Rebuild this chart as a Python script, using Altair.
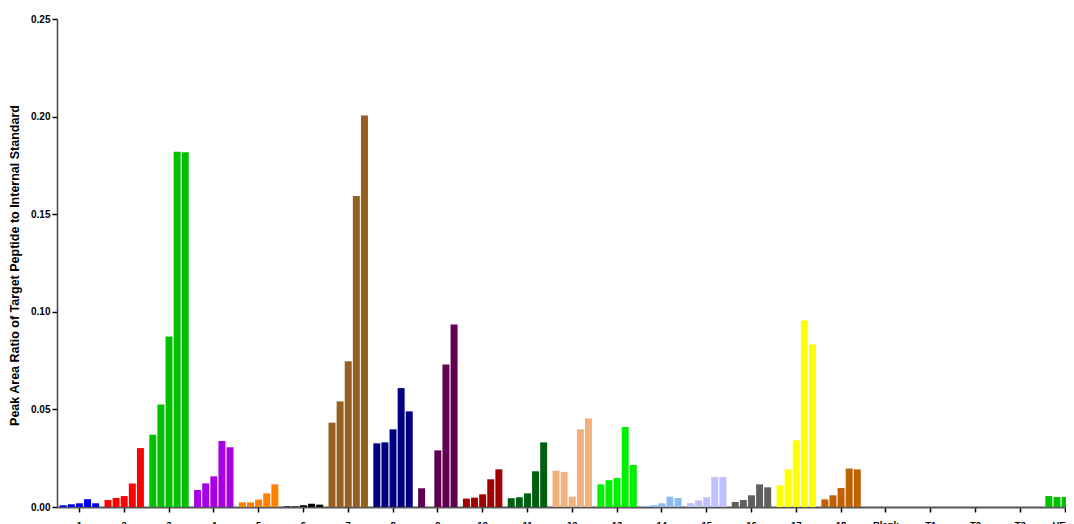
import altair as alt
import pandas as pd

groups = ["1", "2", "3", "4", "5", "6", "7", "8", "9", "10", "11", "12",
          "13", "14", "15", "16", "17", "18", "Blank", "T1", "T2", "T3", "HER2"]

colors = ["#0000F0", "#FF0000", "#00C000", "#A800E6", "#FF8000", "#000000",
          "#966020", "#000080", "#600050", "#A00000", "#006010", "#F2B27C",
          "#00F000", "#8CBCF0", "#C0C0FF", "#606060", "#FFFF00", "#C06000",
          "#00C000", "#00C000", "#00C000", "#00C000", "#00C000"]

# five replicate bars per group, in left-to-right order
rep1 = [0.0009, 0.0036, 0.0370, 0.0087, 0.0024, 0.0003, 0.0432, 0.0326, 0.0096, 0.0043, 0.0045, 0.0186,
        0.0116, 0.0005, 0.0020, 0.0026, 0.0111, 0.0039, 0.0, 0.0, 0.0, 0.0, 0.0056]
rep2 = [0.0014, 0.0046, 0.0525, 0.0121, 0.0024, 0.0003, 0.0541, 0.0331, 0.0, 0.0048, 0.0050, 0.0180,
        0.0137, 0.0009, 0.0034, 0.0036, 0.0193, 0.0060, 0.0, 0.0, 0.0, 0.0, 0.0051]
rep3 = [0.0019, 0.0056, 0.0873, 0.0157, 0.0038, 0.0009, 0.0747, 0.0398, 0.0290, 0.0065, 0.0070, 0.0053,
        0.0149, 0.0019, 0.0050, 0.0060, 0.0342, 0.0097, 0.0, 0.0, 0.0, 0.0, 0.0051]
rep4 = [0.0040, 0.0121, 0.1820, 0.0338, 0.0070, 0.0017, 0.1593, 0.0609, 0.0730, 0.0142, 0.0183, 0.0398,
        0.0410, 0.0053, 0.0154, 0.0116, 0.0956, 0.0197, 0.0, 0.0, 0.0, 0.0, 0.0087]
rep5 = [0.0019, 0.0302, 0.1817, 0.0306, 0.0116, 0.0012, 0.2005, 0.0490, 0.0935, 0.0193, 0.0331, 0.0454,
        0.0215, 0.0046, 0.0154, 0.0101, 0.0833, 0.0193, 0.0, 0.0, 0.0, 0.0, 0.0090]

y_ticks = [0.0, 0.05, 0.10, 0.15, 0.20, 0.25]

rows = []
for i, g in enumerate(groups):
    for r, series in enumerate([rep1, rep2, rep3, rep4, rep5]):
        rows.append({"group": g, "rep": r + 1, "value": series[i]})
df = pd.DataFrame(rows)

FONT = "Liberation Sans"

chart = alt.Chart(df).mark_bar().encode(
    x=alt.X("group:N", sort=groups, title=None,
            scale=alt.Scale(paddingInner=0.12, paddingOuter=0.06, range=[0, 1030.5]),
            axis=alt.Axis(labelAngle=0, labelFont=FONT, labelFontSize=9.5, labelFontWeight="bold",
                          labelColor="#000", tickColor="#000", tickSize=5, tickWidth=1.5,
                          labelPadding=7, domainColor="#555", domainWidth=2)),
    xOffset=alt.XOffset("rep:N", scale=alt.Scale(paddingInner=0.14)),
    y=alt.Y("value:Q", scale=alt.Scale(domain=[0, 0.25], nice=False),
            title="Peak Area Ratio of Target Peptide to Internal Standard",
            axis=alt.Axis(values=y_ticks, format=".2f", grid=False,
                          labelFont=FONT, labelFontSize=10, labelFontWeight="bold", labelColor="#000",
                          tickColor="#000", tickSize=5, tickWidth=1.5, labelPadding=2,
                          domainColor="#444", domainWidth=1.5,
                          titleFont=FONT, titleFontSize=12.5, titleFontWeight="bold", titleColor="#000",
                          titleX=-43, titleY=246, titleAngle=-90, titleAlign="center",
                          titleBaseline="middle")),
    color=alt.Color("group:N", scale=alt.Scale(domain=groups, range=colors), legend=None),
).properties(
    width=1009,
    height=488,
    autosize=alt.AutoSizeParams(type="none"),
    padding={"left": 49, "top": 11, "right": 0, "bottom": 30},
).configure_view(stroke=None)

chart.save("out.html", embed_options={"renderer": "svg", "actions": False})
